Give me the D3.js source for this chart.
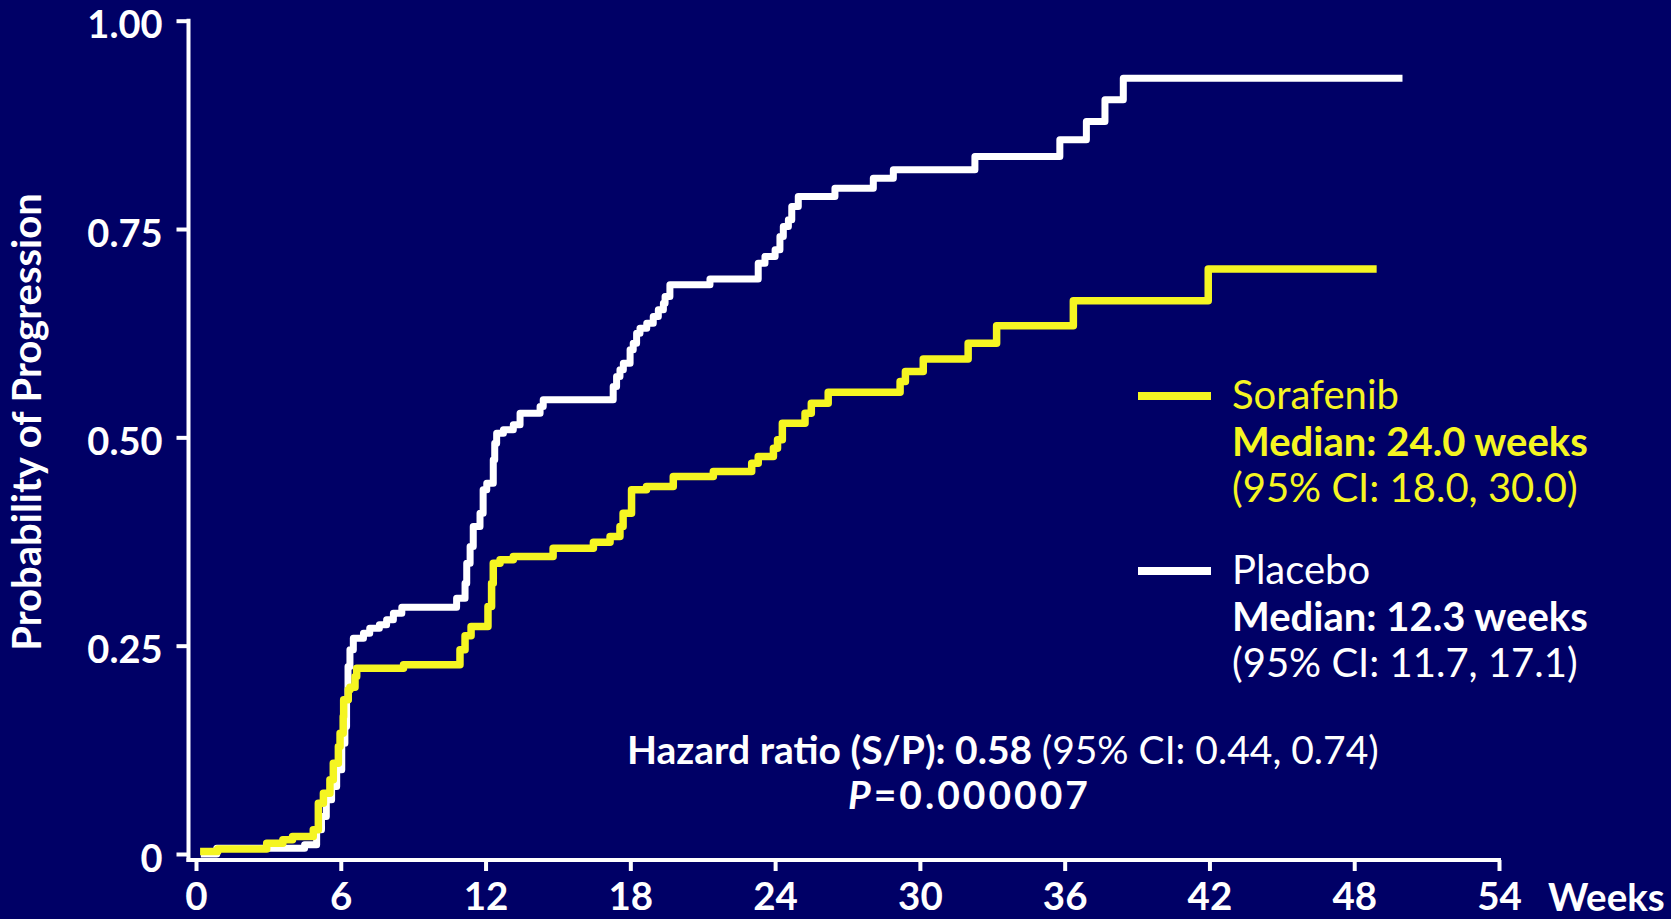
<!DOCTYPE html>
<html>
<head>
<meta charset="utf-8">
<script src="https://cdn.jsdelivr.net/npm/d3@7"></script>
<style>
  html, body { margin: 0; padding: 0; background: #000066; }
  svg { display: block; }
  text { font-family: Lato, "Open Sans", "Noto Sans", sans-serif; }
</style>
</head>
<body>
<svg id="chart" width="1671" height="919"></svg>
<script>
// Axis ticks
const weekTicks = [0, 6, 12, 18, 24, 30, 36, 42, 48, 54];
const probTicks = [0, 0.25, 0.5, 0.75, 1];
const probTickLabels = ["0", "0.25", "0.50", "0.75", "1.00"];

// Kaplan-Meier cumulative probability of progression (step after each time)
const sorafenibWeeks = [0.17, 0.9, 2.93, 3.6, 4.0, 4.86, 5.07, 5.28, 5.55, 5.69, 5.9, 5.97, 6.1, 6.12, 6.31, 6.38, 6.59, 6.66, 8.6, 10.94, 11.15, 11.4, 12.1, 12.25, 12.32, 12.6, 13.15, 14.8, 16.47, 17.16, 17.57, 17.7, 18.05, 18.67, 19.78, 21.44, 23.03, 23.3, 23.93, 24.1, 24.3, 25.24, 25.5, 26.2, 29.18, 29.4, 30.14, 32.0, 33.18, 36.36, 41.95, 48.93];
const sorafenibProb = [0.003, 0.006, 0.013, 0.017, 0.021, 0.029, 0.061, 0.073, 0.089, 0.109, 0.129, 0.145, 0.165, 0.185, 0.197, 0.200, 0.213, 0.223, 0.227, 0.245, 0.262, 0.273, 0.297, 0.325, 0.349, 0.353, 0.357, 0.367, 0.374, 0.381, 0.393, 0.409, 0.437, 0.441, 0.453, 0.459, 0.469, 0.477, 0.487, 0.497, 0.517, 0.529, 0.541, 0.554, 0.567, 0.579, 0.594, 0.613, 0.634, 0.664, 0.702, 0.702];

const placeboWeeks = [0.2, 0.86, 4.5, 5.0, 5.2, 5.4, 5.62, 5.83, 6.04, 6.17, 6.24, 6.3, 6.38, 6.52, 6.94, 7.2, 7.6, 7.9, 8.18, 8.53, 10.8, 11.15, 11.22, 11.36, 11.49, 11.77, 11.9, 12.05, 12.32, 12.38, 12.46, 12.74, 13.15, 13.43, 14.26, 14.39, 17.29, 17.43, 17.57, 17.71, 17.99, 18.12, 18.26, 18.4, 18.68, 18.95, 19.16, 19.37, 19.44, 19.64, 21.3, 23.3, 23.58, 24.0, 24.2, 24.34, 24.55, 24.69, 24.96, 26.48, 28.07, 28.9, 32.28, 35.8, 36.9, 37.67, 38.43, 50.0];
const placeboProb = [0, 0.007, 0.011, 0.029, 0.045, 0.065, 0.081, 0.101, 0.133, 0.153, 0.185, 0.225, 0.245, 0.259, 0.265, 0.271, 0.275, 0.281, 0.289, 0.296, 0.307, 0.325, 0.349, 0.369, 0.393, 0.409, 0.437, 0.445, 0.473, 0.493, 0.505, 0.509, 0.515, 0.529, 0.537, 0.545, 0.561, 0.573, 0.581, 0.589, 0.605, 0.613, 0.625, 0.631, 0.637, 0.645, 0.653, 0.661, 0.669, 0.683, 0.690, 0.709, 0.717, 0.725, 0.741, 0.753, 0.761, 0.777, 0.789, 0.799, 0.811, 0.821, 0.837, 0.857, 0.879, 0.905, 0.931, 0.931];

const YELLOW = "#f5f522";
const WHITE = "#ffffff";
const BG = "#000066";

const svg = d3.select("#chart");
svg.append("rect").attr("width", 1671).attr("height", 919).attr("fill", BG);

const x = d3.scaleLinear().domain([0, 54]).range([196, 1499]);
const y = d3.scaleLinear().domain([0, 1]).range([854, 20.7]);

const axisX = 188.5;   // y-axis line position
const axisY = 860;     // x-axis line position

// Axis lines
svg.append("line")
  .attr("x1", axisX).attr("x2", axisX)
  .attr("y1", y(1) - 2).attr("y2", axisY + 2)
  .attr("stroke", WHITE).attr("stroke-width", 4);
svg.append("line")
  .attr("x1", axisX - 2).attr("x2", x(54) + 2)
  .attr("y1", axisY).attr("y2", axisY)
  .attr("stroke", WHITE).attr("stroke-width", 4);

// Y axis ticks and labels
const gy = svg.append("g")
  .attr("transform", `translate(${axisX},0)`)
  .call(d3.axisLeft(y).tickValues(probTicks)
    .tickFormat((d, i) => probTickLabels[i])
    .tickSize(12).tickPadding(14));
gy.select(".domain").remove();
gy.selectAll(".tick line").attr("stroke", WHITE).attr("stroke-width", 4);
gy.selectAll(".tick text")
  .attr("fill", WHITE)
  .attr("font-family", "Lato, sans-serif")
  .attr("font-size", 38).attr("font-weight", 700)
  .attr("dy", "0.45em");

// X axis ticks and labels
const gx = svg.append("g")
  .attr("transform", `translate(0,${axisY})`)
  .call(d3.axisBottom(x).tickValues(weekTicks).tickSize(11).tickPadding(12));
gx.select(".domain").remove();
gx.selectAll(".tick line").attr("stroke", WHITE).attr("stroke-width", 4);
gx.selectAll(".tick text")
  .attr("fill", WHITE)
  .attr("font-family", "Lato, sans-serif")
  .attr("font-size", 38.5).attr("font-weight", 700);

svg.append("text")
  .attr("x", 1548).attr("y", 910.5)
  .attr("fill", WHITE).attr("font-size", 38.5).attr("font-weight", 700)
  .text("Weeks");

svg.append("text")
  .attr("transform", "translate(41,422) rotate(-90)")
  .attr("text-anchor", "middle")
  .attr("fill", WHITE).attr("font-size", 40).attr("font-weight", 700)
  .text("Probability of Progression");

// Curves
const line = d3.line()
  .x(d => x(d[0]))
  .y(d => y(d[1]))
  .curve(d3.curveStepAfter);

function drawCurve(weeks, probs, color, width) {
  const pts = weeks.map((w, i) => [w, probs[i]]);
  svg.append("path")
    .datum(pts)
    .attr("d", line)
    .attr("fill", "none")
    .attr("stroke", color)
    .attr("stroke-width", width)
    .attr("stroke-linejoin", "round")
    .attr("stroke-linecap", "butt");
}
drawCurve(placeboWeeks, placeboProb, WHITE, 7);
drawCurve(sorafenibWeeks, sorafenibProb, YELLOW, 7.5);

// Legend
function legendBlock(y0, color, name, median, ci) {
  svg.append("line")
    .attr("x1", 1138).attr("x2", 1211)
    .attr("y1", y0).attr("y2", y0)
    .attr("stroke", color).attr("stroke-width", 8);
  svg.append("text").attr("x", 1232).attr("y", y0 + 13)
    .attr("fill", color).attr("font-size", 40).text(name);
  svg.append("text").attr("x", 1232).attr("y", y0 + 60)
    .attr("fill", color).attr("font-size", 40).attr("font-weight", 700).text(median);
  svg.append("text").attr("x", 1232).attr("y", y0 + 106)
    .attr("fill", color).attr("font-size", 40).text(ci);
}
legendBlock(396, YELLOW, "Sorafenib", "Median: 24.0 weeks", "(95% CI: 18.0, 30.0)");
legendBlock(571, WHITE, "Placebo", "Median: 12.3 weeks", "(95% CI: 11.7, 17.1)");

// Hazard ratio annotation
const hr = svg.append("text").attr("x", 627).attr("y", 764)
  .attr("fill", WHITE).attr("font-size", 39);
hr.append("tspan").attr("font-weight", 700).text("Hazard ratio (S/P): 0.58 ");
hr.append("tspan").text("(95% CI: 0.44, 0.74)");

const pv = svg.append("text").attr("x", 848).attr("y", 809)
  .attr("fill", WHITE).attr("font-size", 39).attr("font-weight", 700)
  .attr("letter-spacing", 3);
pv.append("tspan").attr("font-style", "italic").text("P");
pv.append("tspan").text("=0.000007");
</script>
</body>
</html>
